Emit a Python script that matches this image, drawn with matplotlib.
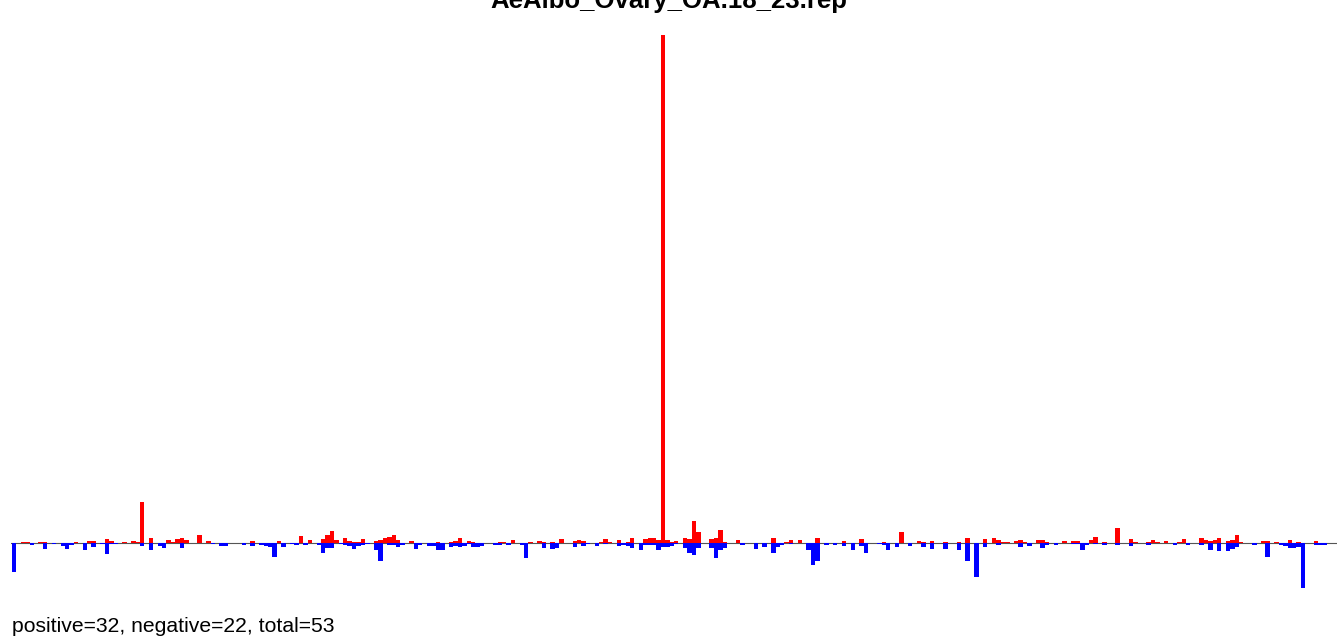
import matplotlib
matplotlib.use("Agg")
import matplotlib.pyplot as plt
import numpy as np

plt.rcParams['font.family'] = ['Liberation Sans', 'DejaVu Sans']

title = "AeAlbo_Ovary_OA.18_23.rep"
footer = "positive=32, negative=22, total=53"
n_bins = 298

# positive strand (red), bin index -> height
pos_bins = [2, 3, 6, 7, 14, 15, 17, 18, 21, 22, 25, 27, 28, 29, 31, 32, 35, 36, 37, 38, 39, 41, 42, 44,
            51, 54, 60, 65, 67, 70, 71, 72, 73, 75, 76, 77, 78, 79, 82, 83, 84, 85, 86, 87, 89, 90, 96,
            99, 100, 101, 102, 103, 104, 110, 111, 113, 117, 119, 120, 122, 124, 127, 128, 129, 133, 134,
            135, 137, 139, 140, 141, 142, 143, 144, 145, 146, 147, 148,
            149, 150, 152, 153, 154, 155, 156, 158, 159, 160, 161, 164, 172, 175, 176, 178, 182, 188, 190,
            192, 196, 197,
            201, 205, 206, 208, 211, 214, 216, 220, 222, 223, 224, 225, 227, 228, 229, 232, 233, 234, 238,
            240, 241, 244, 245, 247,
            250, 253, 254, 257, 258, 259, 261, 264, 265, 267, 269, 270, 271, 272, 273, 275, 276, 277, 278,
            283, 284, 286, 289, 291, 295]
pos_vals = [1.3, 1.3, 1.3, 1.3, 1.3, 0.5, 2.3, 2.3, 4.3, 2.3, 1.3, 2.3, 1.3, 41, 5.3, 0.3, 3.3, 1.3, 4.3, 5.3, 3.3, 0.3, 8.3, 2.3,
            0.3, 2.3, 2.3, 7.3, 3.3, 4.3, 8.3, 12.3, 3.3, 5.3, 2.3, 1.3, 1.3, 4.3, 2.3, 3.3, 5.3, 6.3, 8.3, 3.3, 0.3, 2.3, 1.3,
            1.3, 2.3, 5.3, 0.3, 2.3, 1.3, 1.3, 1.3, 3.3, 1.3, 2.3, 1.3, 1.3, 4.3, 2.3, 3.3, 2.3, 1.3, 4.3,
            1.3, 3.3, 1.3, 5.3, 0.3, 0.3, 4.3, 5.3, 5.3, 3.3, 508, 3.3,
            1.3, 2.3, 5.3, 4.3, 22.3, 11.3, 0.3, 4.3, 5.3, 13.3, 1.3, 3.3, 5.3, 1.3, 3.3, 3.3, 5.3, 2.3, 0.3,
            4.3, 0.3, 1.3,
            11.3, 2.3, 1.3, 2.3, 1.3, 1.3, 5.3, 4.3, 5.3, 3.3, 1.3, 1.3, 2.3, 3.3, 1.3, 3.3, 3.3, 1.3, 2.3,
            2.3, 2.3, 3.3, 6.3, 1.3,
            15.3, 4.3, 1.3, 1.3, 3.3, 1.3, 2.3, 1.3, 4.3, 0.5, 5.3, 3.3, 2.3, 3.3, 5.3, 2.3, 3.3, 8.3, 1.3,
            2.3, 2.3, 1.3, 3.3, 1.3, 2.3]

# negative strand (blue), bin index -> depth
neg_bins = [0, 4, 7, 9, 11, 12, 13, 16, 18, 20, 21, 22, 23, 29, 31, 33, 34, 38, 45, 47, 48,
            52, 54, 56, 57, 58, 59, 61, 63, 64, 66, 69, 70, 71, 72, 74, 75, 76, 77, 78, 79, 80, 82, 83,
            85, 86, 87, 88, 91, 92, 94, 95, 96, 97,
            99, 100, 101, 102, 103, 104, 105, 106, 109, 110, 112, 115, 116, 120, 122, 123, 127, 129, 130,
            132, 134, 137, 138, 139, 140, 142, 143, 144, 145, 146, 147, 148,
            149, 150, 152, 153, 154, 155, 158, 159, 160, 161, 165, 168, 170, 172, 173, 174, 176, 180, 181,
            182, 184, 186, 188, 190, 192, 193, 196, 197,
            198, 200, 203, 206, 208, 211, 214, 216, 218, 220, 223, 228, 230, 233, 234, 236, 240, 241, 242,
            243, 245, 247,
            250, 253, 257, 263, 266, 269, 271, 273, 275, 276, 277, 281, 284, 287, 288, 289, 290, 291, 292,
            295, 296, 297]
neg_vals = [28.3, 1.3, 5.3, 0.5, 2.3, 5.3, 1.3, 6.3, 3.3, 0.5, 10.3, 0.7, 0.7, 2.3, 6.3, 2.3, 4.3, 4.3, 0.7, 2.3, 2.3,
            1.3, 2.3, 1.3, 2.3, 3.3, 13.7, 3.3, 0.7, 1.3, 1.3, 1.3, 9.3, 4.3, 4.3, 0.5, 1.3, 2.3, 5.3, 2.3, 1.3, 0.5, 6.3, 17.3,
            1.3, 1.3, 3.3, 1.3, 5.3, 1.3, 2.3, 2.3, 6.3, 6.3,
            3.3, 2.3, 3.3, 2.3, 0.7, 3.3, 3.3, 2.3, 1.3, 1.3, 1.3, 1.3, 14.3, 4.3, 5.3, 4.3, 3.3, 2.3, 0.7,
            2.3, 0.5, 2.3, 1.3, 2.3, 4.3, 6.3, 1.3, 1.3, 1.3, 6.3, 3.3, 3.3,
            2.3, 0.7, 4.3, 9.3, 11.3, 4.3, 4.3, 14.3, 6.3, 4.3, 1.3, 5.3, 3.3, 9.3, 3.3, 1.3, 0.7, 6.3, 21.3,
            17.3, 1.3, 1.3, 2.3, 6.3, 2.3, 9.3, 0.5, 1.3,
            6.3, 3.3, 2.3, 3.3, 5.3, 5.3, 6.3, 17.3, 33.3, 3.3, 1.3, 3.3, 2.3, 4.3, 1.3, 1.3, 0.7, 0.7, 6.3,
            1.3, 0.5, 1.3,
            1.3, 2.3, 1.3, 1.3, 1.3, 1.3, 6.3, 7.3, 7.3, 5.3, 3.3, 1.3, 13.3, 1.3, 2.3, 4.3, 4.3, 3.3, 44.3,
            1.3, 1.3, 1.3]

W, H = 1337, 638
fig = plt.figure(figsize=(W / 100, H / 100), dpi=100)
ax = fig.add_axes([11 / W, 0, 1 - 11 / W, 1])

ax.bar(pos_bins, pos_vals, width=1.0, align='edge', color='#ff0000', linewidth=0, zorder=2)
ax.bar(neg_bins, -np.array(neg_vals), width=1.0, align='edge', color='#0000ff', linewidth=0, zorder=2)
ax.axhline(0, color='#555555', linewidth=0.8, zorder=1)

ax.set_xlim(-0.23, 300.2)
ax.set_ylim(-(H - 543.3), 543.3)
ax.axis('off')

fig.text(0.5, 1 - 8 / H, title, ha='center', va='baseline', fontsize=18.5, fontweight='bold')
fig.text(12 / W, 1 - 631.7 / H, footer, ha='left', va='baseline', fontsize=15.2)

fig.savefig("out.png", dpi=100)
